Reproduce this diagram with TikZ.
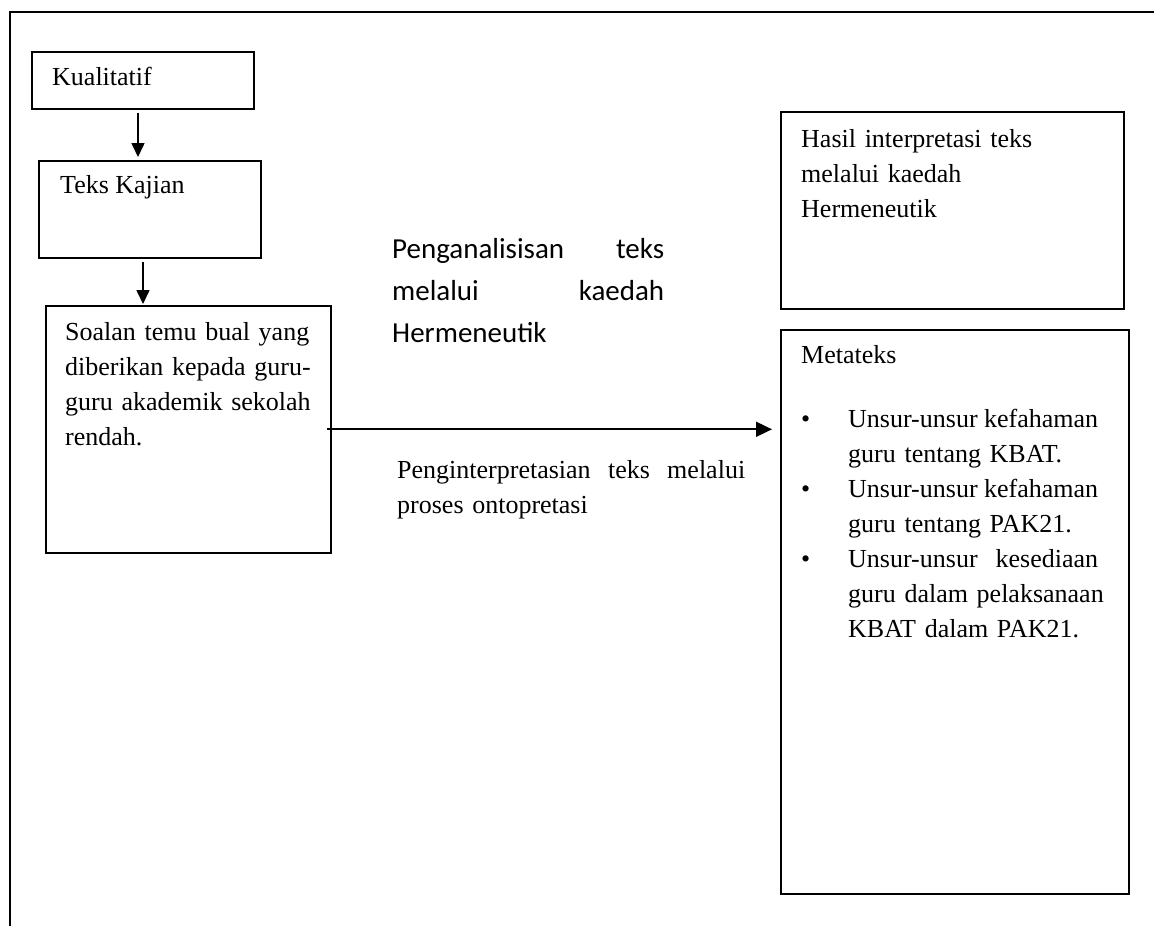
\documentclass[tikz,border=0pt]{standalone}
\usepackage{fontspec}
\setmainfont{Liberation Serif}
\newfontfamily\calib{Carlito}
\usetikzlibrary{arrows.meta}
\newcommand\brk{\hspace*{\fill}\break}
\newcommand\nohy{\hyphenpenalty=10000 \exhyphenpenalty=10000 }
\begin{document}
\begin{tikzpicture}[x=1pt,y=-1pt,
  box/.style={draw, line width=1.6pt, inner sep=0pt},
  txt/.style={anchor=base west, inner sep=0pt, align=left, font=\fontsize{26}{35}\selectfont},
  ctxt/.style={anchor=base west, inner sep=0pt, align=left, font=\calib\fontsize{29}{42}\selectfont},
  arr/.style={line width=1.6pt, -{Triangle[length=14pt,width=13pt]}},
  harr/.style={line width=1.8pt, -{Triangle[length=16pt,width=15pt]}}]
\useasboundingbox (0,0) rectangle (1154,926);
% outer frame (top and left only)
\draw[line width=2pt] (10,926) -- (10,12) -- (1154,12);
% boxes
\node[box, anchor=north west, minimum width=222pt, minimum height=57pt] (kual) at (31,51) {};
\node[box, anchor=north west, minimum width=222pt, minimum height=97pt] (teks) at (38,160) {};
\node[box, anchor=north west, minimum width=285pt, minimum height=247pt] (soal) at (45,305) {};
\node[box, anchor=north west, minimum width=343pt, minimum height=197pt] (hasil) at (780,111) {};
\node[box, anchor=north west, minimum width=348pt, minimum height=564pt] (meta) at (780,329) {};
% texts
\node[txt] (tkual) at (52,85) {Kualitatif};
\node[txt] (tteks) at (60,193) {Teks Kajian};
\node[txt, text width=260pt] (tsoal) at (65,340) {\nohy Soalan temu bual yang\brk diberikan kepada guru-\brk guru akademik sekolah\brk rendah.\hspace*{\fill}};
\node[txt, text width=300pt] (thasil) at (801,147) {\nohy Hasil interpretasi teks\brk melalui kaedah\brk Hermeneutik\hspace*{\fill}};
\node[ctxt, text width=272pt] (tanal) at (392,258) {\nohy Penganalisisan\hfill teks\break melalui\hfill kaedah\break Hermeneutik\hspace*{\fill}};
\node[txt, text width=348pt] (tinterp) at (397,478) {\nohy Penginterpretasian\hfill teks\hfill melalui\break proses ontopretasi\hspace*{\fill}};
\node[txt] (tmeta) at (801,363) {Metateks};
\node[txt] (b1) at (801,427) {\textbullet};
\node[txt] (b2) at (801,497) {\textbullet};
\node[txt] (b3) at (801,567) {\textbullet};
\node[txt, text width=250pt] (i1) at (848,427) {\nohy Unsur-unsur\hfill kefahaman\break guru tentang KBAT.\hspace*{\fill}};
\node[txt, text width=250pt] (i2) at (848,497) {\nohy Unsur-unsur\hfill kefahaman\break guru tentang PAK21.\hspace*{\fill}};
\node[txt, text width=250pt] (i3) at (848,567) {\nohy Unsur-unsur\hfill kesediaan\break \mbox{guru dalam pelaksanaan}\brk KBAT dalam PAK21.\hspace*{\fill}};
% connectors
\draw[arr, shorten <=3pt, shorten >=3pt] (kual.south -| 138,0) -- (teks.north -| 138,0);
\draw[arr, shorten <=3pt, shorten >=1pt] (teks.south -| 143,0) -- (soal.north -| 143,0);
\draw[harr, shorten <=-5pt, shorten >=8pt] (soal.east) -- (soal.east -| meta.west);
\end{tikzpicture}
\end{document}
